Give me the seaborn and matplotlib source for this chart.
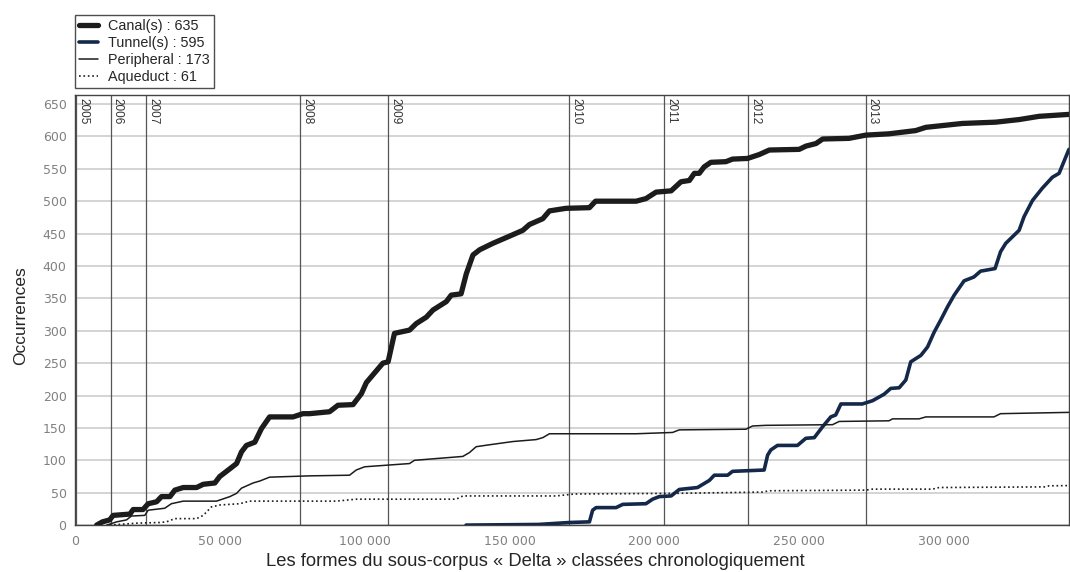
import matplotlib.pyplot as plt
import numpy as np
import pandas as pd
import seaborn as sns

sns.set_style('white')
plt.rcParams['font.family'] = ['Liberation Sans', 'DejaVu Sans']

# valeurs (position dans le corpus, occurrences cumulées)
canal_x = [7500, 9500, 12000, 13200, 19000, 20100, 23500, 25300, 28200, 29900, 32800, 34500,
           37400, 42000, 44300, 48300, 50000, 53500, 55800, 57500, 59200, 62100, 64400, 67200,
           75300, 78700, 81000, 87900, 90800, 96000, 98900, 100600, 106300, 108100, 110300,
           115500, 117800, 121300, 123600, 128200, 129900, 133300, 135100, 137400, 139700,
           144300, 150000, 154600, 156900, 161500, 163800, 169500, 177600, 179700, 193700,
           197100, 200600, 205800, 209200, 212100, 213800, 215500, 217200, 219500, 224700,
           227000, 232200, 236200, 239700, 250000, 252300, 255800, 258100, 267200, 273000,
           281000, 290200, 293700, 306300, 317800, 325900, 332800, 343100]
canal_y = [0, 5, 8, 15, 17, 24, 24, 33, 36, 44, 44, 54, 58, 58, 63, 65, 75, 87, 95, 113, 123,
           128, 149, 167, 167, 172, 172, 175, 185, 186, 203, 220, 250, 252, 296, 301, 311, 321,
           332, 345, 355, 357, 388, 417, 425, 435, 446, 455, 464, 473, 485, 489, 490, 500, 500,
           504, 514, 516, 530, 532, 543, 543, 553, 560, 561, 565, 566, 572, 579, 580, 585, 589,
           596, 597, 602, 604, 609, 614, 620, 622, 626, 631, 634]

tunnel_x = [135000, 160000, 170700, 177600, 178700, 179900, 186800, 189100, 197100, 199400,
            201700, 205800, 208600, 214900, 219000, 220700, 225300, 227000, 237900, 239100,
            240200, 242500, 249400, 252300, 255200, 258100, 260900, 262600, 264400, 271800,
            275300, 279300, 281600, 284500, 286800, 288500, 292000, 294300, 296600, 298900,
            301200, 303500, 306900, 310300, 312600, 317600, 319500, 321300, 325900, 327600,
            330500, 333900, 337400, 339700, 343100]
tunnel_y = [0, 1, 4, 5, 23, 27, 27, 32, 33, 40, 44, 45, 55, 58, 69, 77, 77, 83, 85, 108, 116,
            123, 123, 134, 135, 152, 167, 170, 187, 187, 192, 202, 211, 212, 224, 252, 262, 275,
            298, 317, 337, 355, 377, 383, 392, 396, 422, 435, 455, 476, 501, 520, 537, 543, 580]

periph_x = [11000, 14400, 17800, 19500, 24100, 25300, 31000, 33300, 37400, 48900, 53500, 55800,
            57500, 61500, 63800, 67200, 81000, 94800, 97100, 100000, 115500, 117200, 133900,
            136200, 138500, 143100, 151200, 159200, 161500, 163800, 193700, 206300, 208600,
            231600, 233900, 238500, 261500, 263800, 281000, 282200, 291400, 293700, 317200,
            319500, 343100]
periph_y = [0, 5, 8, 14, 15, 23, 26, 33, 37, 37, 44, 49, 57, 65, 68, 74, 76, 77, 85, 90, 95,
            100, 106, 112, 121, 124, 129, 132, 135, 141, 141, 143, 147, 148, 153, 154, 155, 160,
            161, 164, 164, 167, 167, 172, 174]

aque_x = [12000, 21300, 29300, 31600, 34500, 42000, 44300, 47100, 50000, 56900, 60300, 90200,
          97100, 131600, 133900, 166100, 172400, 207500, 237400, 239700, 273000, 275300, 296000,
          298300, 335100, 336200, 343100]
aque_y = [0, 3, 4, 5, 10, 10, 15, 28, 31, 33, 37, 37, 40, 40, 45, 45, 48, 49, 51, 53, 54, 55.5,
          55.5, 58, 59, 60.6, 61]

labels = ['Canal(s) : 635', 'Tunnel(s) : 595', 'Peripheral : 173', 'Aqueduct : 61']
years = ['2005', '2006', '2007', '2008', '2009', '2010', '2011', '2012', '2013']
year_x = [300, 12300, 24700, 77800, 108000, 170700, 203400, 232400, 272900]
xticks = [0, 50000, 100000, 150000, 200000, 250000, 300000]
xtick_labels = ['0', '50 000', '100 000', '150 000', '200 000', '250 000', '300 000']

fig = plt.figure(figsize=(10.7, 5.72), dpi=100)
ax = fig.add_axes([0.070, 0.082, 0.929, 0.752])

series = [
    (canal_x, canal_y, '#1c1c1c', 3.8, '-'),
    (tunnel_x, tunnel_y, '#14294a', 2.6, '-'),
    (periph_x, periph_y, '#1c1c1c', 1.1, '-'),
    (aque_x, aque_y, '#1c1c1c', 1.2, ':'),
]
for (xs, ys, col, lw, ls), lab in zip(series, labels):
    df = pd.DataFrame({'x': xs, 'y': ys})
    sns.lineplot(data=df, x='x', y='y', ax=ax, color=col, linewidth=lw, linestyle=ls,
                 label=lab, zorder=3)

# lignes des années
for yr, xv in zip(years, year_x):
    ax.axvline(xv, color='#555555', linewidth=0.9, zorder=1)
    ax.annotate(yr, xy=(xv, 1), xycoords=('data', 'axes fraction'), xytext=(1, -2),
                textcoords='offset points', rotation=270, ha='left', va='top',
                fontsize=8.5, color='#333333')

ax.set_xlim(0, 343100)
ax.set_ylim(0, 664)
ax.set_yticks(np.arange(0, 651, 50))
ax.set_xticks(xticks)
ax.set_xticklabels(xtick_labels)
ax.yaxis.grid(True, color='#d4d4d4', linewidth=1.4, zorder=0)
ax.xaxis.grid(False)
ax.set_axisbelow(True)

for lbl in ax.get_xticklabels() + ax.get_yticklabels():
    lbl.set_family('DejaVu Sans')
    lbl.set_fontsize(9)
    lbl.set_color('#808080')
ax.tick_params(axis='x', length=4, width=1, color='#b8d0e8', pad=3)
ax.tick_params(axis='y', length=0, pad=6)

for s in ax.spines.values():
    s.set_color('#444444')
    s.set_linewidth(1)

ax.set_xlabel('Les formes du sous-corpus « Delta » classées chronologiquement', fontsize=13.2)
ax.xaxis.set_label_coords(0.463, -0.066)
ax.set_ylabel('Occurrences', fontsize=12.5)
ax.yaxis.set_label_coords(-0.047, 0.487)

leg = ax.legend(loc='upper left', bbox_to_anchor=(0, 1.186), borderaxespad=0, fontsize=10.4,
                frameon=True, fancybox=False, edgecolor='#222222', handlelength=1.3,
                handletextpad=0.7, labelspacing=0.2, borderpad=0.3)
leg.get_frame().set_linewidth(1)

fig.savefig('out.png', dpi=100)
